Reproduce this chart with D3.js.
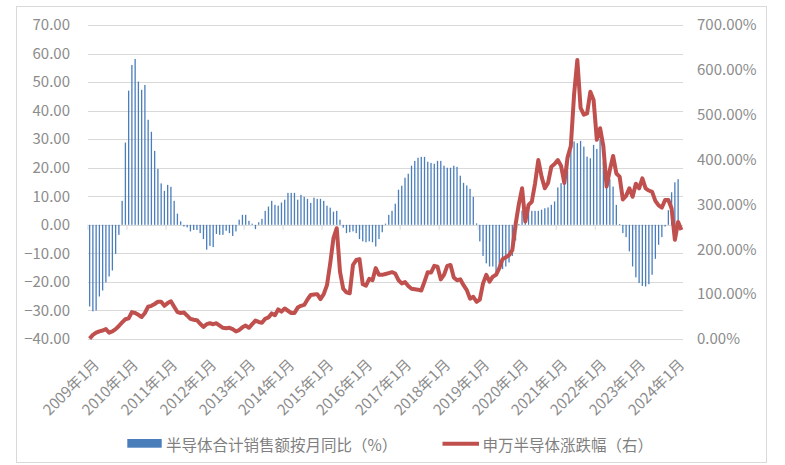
<!DOCTYPE html>
<html><head><meta charset="utf-8">
<script src="https://cdn.jsdelivr.net/npm/d3@7/dist/d3.min.js"></script>
<style>body{margin:0;background:#fff}svg{display:block}</style>
</head><body>
<svg id="c" width="785" height="465"></svg>
<script>
// ---- data ----
const tickLabels = ["2009年1月","2010年1月","2011年1月","2012年1月","2013年1月","2014年1月","2015年1月","2016年1月","2017年1月","2018年1月","2019年1月","2020年1月","2021年1月","2022年1月","2023年1月","2024年1月"];
const leftTicks = [-40,-30,-20,-10,0,10,20,30,40,50,60,70];
const rightTicks = [0,100,200,300,400,500,600,700];
// 半导体合计销售额按月同比 (%), monthly from 2009-01
const salesYoY = [
-28.6,-30.3,-30.0,-25.1,-23.0,-20.2,-18.1,-16.0,-10.2,-3.5,8.4,28.8,
47.0,56.0,58.1,50.2,47.3,49.0,36.8,32.6,25.9,19.6,14.5,11.9,
14.0,13.3,8.4,3.9,1.2,-0.6,-0.9,-2.3,-1.8,-1.8,-2.9,-5.0,
-8.7,-7.4,-7.8,-3.2,-3.5,-3.5,-2.1,-2.9,-3.9,-2.3,1.8,3.5,
3.5,1.4,0.4,-1.5,0.9,2.1,4.9,6.4,8.4,7.0,6.7,7.8,
8.8,11.2,11.2,11.2,8.8,10.5,9.8,9.1,7.7,9.5,9.1,9.1,
8.4,6.7,6.0,4.6,4.9,1.8,-1.0,-2.9,-2.6,-2.3,-2.9,-5.0,
-5.8,-6.1,-5.8,-6.1,-7.6,-5.0,-2.6,0.4,3.5,4.9,7.4,12.3,
13.7,16.5,17.9,20.7,22.4,23.5,23.8,23.8,22.1,21.7,21.4,22.4,
22.4,20.7,20.0,20.0,20.7,20.3,17.2,14.7,13.8,12.6,9.8,0.5,
-5.8,-10.9,-13.5,-14.6,-14.6,-16.5,-15.8,-15.5,-14.6,-13.2,-10.9,-5.5,
0.3,5.0,6.0,5.6,4.9,4.9,4.9,5.3,5.8,6.1,7.0,8.2,
13.1,14.6,17.2,23.9,25.9,29.2,28.6,29.4,27.4,23.9,23.3,28.0,
26.6,30.0,22.0,19.0,16.0,13.4,7.0,0.3,-2.9,-4.3,-9.3,-14.6,
-18.4,-20.4,-21.4,-21.6,-20.8,-17.5,-11.9,-7.0,-4.3,-0.6,5.1,11.4,
14.9,16.0,null];
// 申万半导体涨跌幅 (右, %), monthly from 2009-01
const swSemi = [
1,9,14,17,19,22,14,17,22,29,37,44,
46,60,58,54,49,58,72,74,78,83,83,74,
80,84,72,60,58,59,52,45,43,42,34,27,
33,35,33,35,30,25,24,25,22,17,20,26,
30,25,33,41,38,36,45,48,57,53,66,61,
68,63,58,58,70,74,76,88,98,99,100,89,
100,120,169,225,247,150,112,104,102,165,176,178,
122,119,134,131,158,143,143,145,147,149,146,131,
124,127,118,112,111,110,108,128,149,148,163,161,
133,143,163,165,137,131,133,120,109,90,94,83,
88,124,143,128,139,143,158,178,182,187,198,255,
300,336,262,299,306,347,399,362,336,348,384,390,
399,386,348,405,430,545,622,515,500,503,551,533,
444,470,430,340,377,408,369,362,311,319,336,317,
346,336,358,336,331,328,308,298,293,310,310,291,
221,261,243];
const seriesNames = ["半导体合计销售额按月同比（%）","申万半导体涨跌幅（右）"];

// ---- chart ----
const FONT = "'Noto Sans CJK SC','Noto Sans',sans-serif";
const svg = d3.select("#c");
const N = swSemi.length;
const L = 88, R = 683, T = 25, B = 339;
const x = d3.scaleBand().domain(d3.range(N)).range([L, R]).padding(0);
const bw = x.bandwidth();
const cx = i => x(i) + bw / 2;
const yL = d3.scaleLinear().domain([-40, 70]).range([B, T]);
const yR = d3.scaleLinear().domain([0, 700]).range([B, T]);

svg.append("rect").attr("x", 16.5).attr("y", 6.5).attr("width", 750).attr("height", 456)
  .attr("fill", "#fff").attr("stroke", "#d9d9d9");

// gridlines
svg.append("g").selectAll("line").data(leftTicks).join("line")
  .attr("x1", L).attr("x2", R)
  .attr("y1", d => Math.round(yL(d)) + 0.5).attr("y2", d => Math.round(yL(d)) + 0.5)
  .attr("stroke", "#d9d9d9").attr("stroke-width", 1);

// left axis
const axL = svg.append("g").attr("transform", `translate(${L},0)`)
  .call(d3.axisLeft(yL).tickValues(leftTicks).tickFormat(d3.format(".2f")).tickSize(0).tickPadding(18));
axL.select(".domain").remove();
axL.selectAll("text").attr("fill", "#8c8c8c").style("font-family", FONT).style("font-size", "15px");

// right axis
const axR = svg.append("g").attr("transform", `translate(${R},0)`)
  .call(d3.axisRight(yR).tickValues(rightTicks).tickFormat(d => d.toFixed(2) + "%").tickSize(0).tickPadding(14));
axR.select(".domain").remove();
axR.selectAll("text").attr("fill", "#8c8c8c").style("font-family", FONT).style("font-size", "15px");

// category tick marks at each January
const yearIdx = tickLabels.map((t, k) => k * 12);
svg.append("g").selectAll("line").data(yearIdx).join("line")
  .attr("x1", d => x(d)).attr("x2", d => x(d))
  .attr("y1", yL(0)).attr("y2", yL(0) + 5)
  .attr("stroke", "#d9d9d9");

// bars
svg.append("g").selectAll("rect").data(salesYoY.map((v, i) => ({ v, i })).filter(d => d.v !== null)).join("rect")
  .attr("x", d => cx(d.i) - 0.65).attr("width", 1.3)
  .attr("y", d => yL(Math.max(0, d.v)))
  .attr("height", d => Math.abs(yL(d.v) - yL(0)))
  .attr("fill", "#4a7ebb");

// line
svg.append("path").datum(swSemi.map((v, i) => ({ v, i })))
  .attr("d", d3.line().x(d => cx(d.i)).y(d => yR(d.v)))
  .attr("fill", "none").attr("stroke", "#c0504d").attr("stroke-width", 4)
  .attr("stroke-linejoin", "round").attr("stroke-linecap", "butt");

// x labels
svg.append("g").selectAll("text").data(tickLabels).join("text")
  .attr("transform", (d, k) => `translate(${cx(k * 12) + 6},361) rotate(-45)`)
  .attr("text-anchor", "end").attr("dominant-baseline", "central")
  .attr("fill", "#8c8c8c").style("font-family", FONT).style("font-size", "15px")
  .text(d => d);

// legend
const lg = svg.append("g");
lg.append("rect").attr("x", 127.3).attr("y", 439).attr("width", 34.4).attr("height", 8.7).attr("fill", "#4a7ebb");
lg.append("text").attr("x", 166).attr("y", 443.5).attr("dominant-baseline", "central")
  .attr("fill", "#7f7f7f").style("font-family", FONT).style("font-size", "15.5px").text(seriesNames[0]);
lg.append("line").attr("x1", 442.5).attr("x2", 479).attr("y1", 443.7).attr("y2", 443.7)
  .attr("stroke", "#c0504d").attr("stroke-width", 4);
lg.append("text").attr("x", 482.5).attr("y", 443.5).attr("dominant-baseline", "central")
  .attr("fill", "#7f7f7f").style("font-family", FONT).style("font-size", "15.5px").text(seriesNames[1]);
</script>
</body></html>
